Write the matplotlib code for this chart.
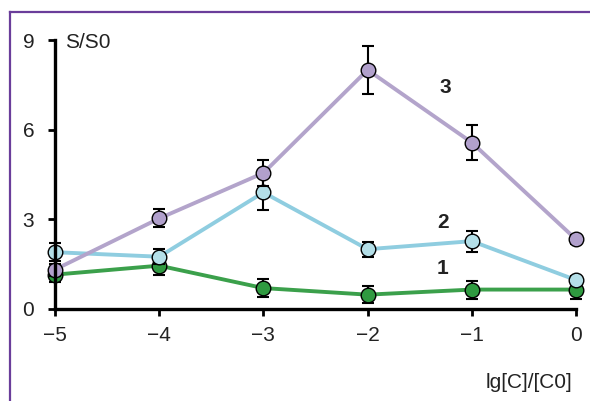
import matplotlib
matplotlib.use("Agg")
import matplotlib.pyplot as plt
from matplotlib.lines import Line2D

plt.rcParams['font.family'] = ['Liberation Sans', 'DejaVu Sans']

x = [-5, -4, -3, -2, -1, 0]
s1 = [1.15, 1.45, 0.70, 0.48, 0.65, 0.65]
e1 = [0.25, 0.30, 0.30, 0.28, 0.30, 0.30]
s2 = [1.90, 1.75, 3.90, 2.00, 2.27, 0.97]
e2 = [0.30, 0.25, 0.58, 0.25, 0.35, 0.15]
s3 = [1.32, 3.03, 4.55, 8.00, 5.57, 2.33]
e3 = [0.20, 0.30, 0.45, 0.80, 0.57, 0.15]

series = [
    (s1, e1, '#3ba04b', '#2f9a40', '1', (-1.28, 1.37)),
    (s2, e2, '#8fcde0', '#b4dfe8', '2', (-1.28, 2.9)),
    (s3, e3, '#b3a4cb', '#b1a0cc', '3', (-1.25, 7.4)),
]

fig = plt.figure(figsize=(5.9, 4.01), dpi=100)
ax = fig.add_axes([55/590, 1-309/401, (576-55)/590, (309-40)/401])

for i, (ys, es, lc, fc, lab, pos) in enumerate(series):
    z = 2 + i*0.1
    ax.plot(x, ys, color=lc, lw=2.8, zorder=z, clip_on=False)
    ax.errorbar(x, ys, yerr=es, fmt='none', ecolor='black', elinewidth=1.5,
                capsize=4, capthick=1.5, zorder=z+0.02, clip_on=False)
    ax.plot(x, ys, ls='none', marker='o', ms=10.5, mfc=fc, mec='black',
            mew=1.0, zorder=z+0.05, clip_on=False)
    ax.text(pos[0], pos[1], lab, fontsize=15, fontweight='bold',
            color='#222222', ha='center', va='center')

ax.set_xlim(-5, 0)
ax.set_ylim(0, 9)
ax.set_xticks(x)
ax.set_xticklabels(['\u22125', '\u22124', '\u22123', '\u22122', '\u22121', '0'])
ax.set_yticks([0, 3, 6, 9])
for s in ['top', 'right']:
    ax.spines[s].set_visible(False)
for s in ['left', 'bottom']:
    ax.spines[s].set_linewidth(2.4)
ax.tick_params(axis='both', width=2, length=5, labelsize=15, colors='black',
               labelcolor='#222222')
ax.tick_params(axis='x', pad=7)
ax.tick_params(axis='y', pad=10)

fig.text(65/590, 1-43/401, 'S/S0', fontsize=15, color='#222222', va='center', ha='left')
fig.text(572/590, 1-382/401, 'lg[C]/[C0]', fontsize=15, color='#222222', va='center', ha='right')

frame_c = '#6a3d9a'
fig.add_artist(Line2D([10/590, 10/590], [0, 1-12/401], color=frame_c, lw=1.6,
                      transform=fig.transFigure))
fig.add_artist(Line2D([10/590, 1], [1-12/401, 1-12/401], color=frame_c, lw=1.6,
                      transform=fig.transFigure))

fig.savefig('out.png', dpi=100)
